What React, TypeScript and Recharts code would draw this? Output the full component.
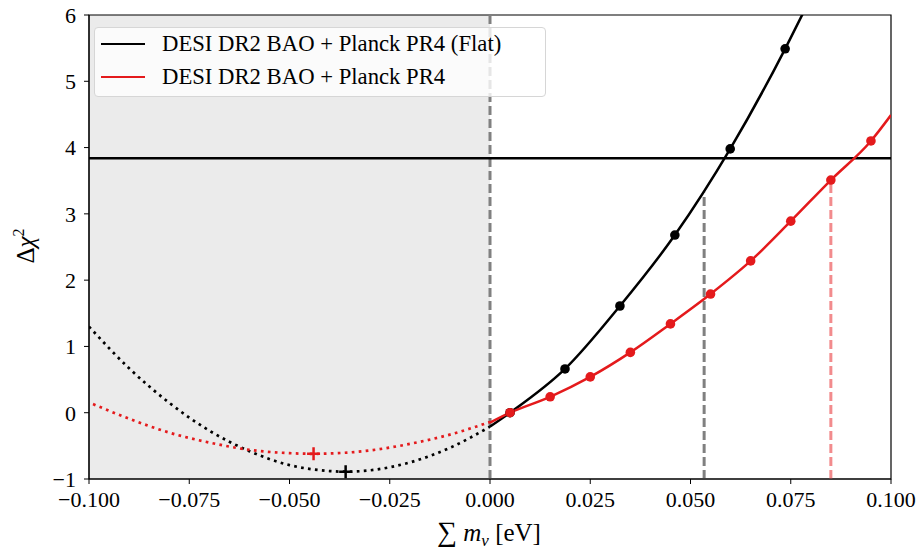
import React from 'react'
import {
  ComposedChart, Line, Scatter, XAxis, YAxis,
  ReferenceArea, ReferenceLine,
} from 'recharts'

/* ─── data ─── */
const X_TICKS = [-0.1, -0.075, -0.05, -0.025, 0, 0.025, 0.05, 0.075, 0.1]
const Y_TICKS = [-1, 0, 1, 2, 3, 4, 5, 6]

const LEGEND_LABELS = ['DESI DR2 BAO + Planck PR4 (Flat)', 'DESI DR2 BAO + Planck PR4']

// flat prior: solid part (m_nu >= 0), dots are the sampled points
const FLAT_X = [0, 0.005, 0.0187, 0.0324, 0.0461, 0.0599, 0.0736, 0.078]
const FLAT_Y = [-0.21, 0, 0.66, 1.61, 2.68, 3.98, 5.49, 6.02]
// flat prior: dotted extrapolation into negative masses
const FLAT_EXT_X = [-0.1, -0.09, -0.08, -0.07, -0.06, -0.05, -0.04, -0.036, -0.03, -0.02, -0.01, 0]
const FLAT_EXT_Y = [1.3, 0.67, 0.15, -0.27, -0.58, -0.79, -0.88, -0.89, -0.87, -0.75, -0.53, -0.21]

const NONFLAT_X = [0, 0.005, 0.015, 0.025, 0.035, 0.045, 0.055, 0.065, 0.075, 0.085, 0.095, 0.1]
const NONFLAT_Y = [-0.15, 0, 0.24, 0.54, 0.91, 1.34, 1.79, 2.29, 2.89, 3.51, 4.1, 4.49]
const NONFLAT_EXT_X = [-0.099, -0.09, -0.08, -0.07, -0.06, -0.05, -0.044, -0.04, -0.03, -0.02, -0.01, 0]
const NONFLAT_EXT_Y = [0.13, -0.09, -0.3, -0.45, -0.56, -0.61, -0.62, -0.615, -0.57, -0.47, -0.33, -0.14]

const FLAT_MIN = [{ x: -0.036, y: -0.89 }]
const NONFLAT_MIN = [{ x: -0.044, y: -0.62 }]

const FLAT_LIMIT = { x: 0.0534, y: 3.32 }
const NONFLAT_LIMIT = { x: 0.085, y: 3.51 }
const CHI2_95 = 3.84

const toPts = (xs: number[], ys: number[]) => xs.map((x, i) => ({ x, y: ys[i] }))

const flatLine = toPts(FLAT_X, FLAT_Y)
const flatDots = flatLine.slice(1, -1)
const flatExt = toPts(FLAT_EXT_X, FLAT_EXT_Y)
const nonflatLine = toPts(NONFLAT_X, NONFLAT_Y)
const nonflatDots = nonflatLine.slice(1, -1)
const nonflatExt = toPts(NONFLAT_EXT_X, NONFLAT_EXT_Y)

/* ─── styling ─── */
const RED = '#e41a1c'
const FONT = '"Liberation Serif", "DejaVu Serif", serif'
const tick = { fontSize: 22, fill: '#000', fontFamily: FONT }
const fmt = (v: number, d: number) => v.toFixed(d).replace('-', '\u2212')

const dot = (color: string) => (p: any) => (
  <circle cx={p.cx} cy={p.cy} r={4.8} fill={color} stroke="none" />
)
const plus = (color: string) => (p: any) => (
  <path
    d={`M${p.cx - 6.5},${p.cy}H${p.cx + 6.5}M${p.cx},${p.cy - 6.5}V${p.cy + 6.5}`}
    stroke={color} strokeWidth={2.5} fill="none"
  />
)

function YLabel() {
  return (
    <text x={34} y={246} transform="rotate(-90, 34, 246)" textAnchor="middle"
      fontFamily={FONT} fontSize={25} fill="#000">
      Δ<tspan fontStyle="italic">χ</tspan>
      <tspan fontSize={16} dy={-10}>2</tspan>
    </text>
  )
}

function XLabel() {
  return (
    <text x={489} y={541} textAnchor="middle" fontFamily={FONT} fontSize={25} fill="#000">
      <tspan fontSize={28}>∑</tspan>
      <tspan fontStyle="italic"> m</tspan>
      <tspan fontStyle="italic" fontSize={17} dy={5}>ν</tspan>
      <tspan dy={-5}> [eV]</tspan>
    </text>
  )
}

function LegendBox() {
  const colors = ['#000', RED]
  return (
    <div style={{
      position: 'absolute', left: 94, top: 27, width: 450, height: 68,
      background: 'rgba(255,255,255,0.8)', border: '1px solid #d6d6d6', borderRadius: 4,
      fontFamily: FONT, fontSize: 22.7, color: '#000',
    }}>
      {LEGEND_LABELS.map((label, i) => (
        <div key={label} style={{ position: 'absolute', left: 6, top: 1 + i * 33, height: 30, display: 'flex', alignItems: 'center' }}>
          <span style={{ display: 'inline-block', width: 44, height: 2.7, background: colors[i], marginRight: 17 }} />
          <span>{label}</span>
        </div>
      ))}
    </div>
  )
}

export default function App() {
  return (
    <div style={{ position: 'absolute', left: 0, top: 0, width: 922, height: 547, background: '#fff' }}>
      <ComposedChart width={922} height={547} margin={{ top: 15, right: 31, left: 29, bottom: 0 }}>
        <XAxis
          dataKey="x" type="number" domain={[-0.1, 0.1]} ticks={X_TICKS}
          allowDataOverflow height={68} tick={tick} tickFormatter={(v) => fmt(v, 3)}
          tickSize={5} tickMargin={7} stroke="#000" interval={0}
        />
        <YAxis
          dataKey="y" type="number" domain={[-1, 6]} ticks={Y_TICKS}
          allowDataOverflow width={60} tick={tick} tickFormatter={(v) => fmt(v, 0)}
          tickSize={5} tickMargin={8} stroke="#000" interval={0}
        />

        {/* unphysical region */}
        <ReferenceArea x1={-0.1} x2={0} y1={-1} y2={6} fill="#ebebeb" fillOpacity={1} stroke="none" />

        <ReferenceLine x={0} stroke="#808080" strokeWidth={3} strokeDasharray="9 4" />
        <ReferenceLine segment={[{ x: FLAT_LIMIT.x, y: -1 }, FLAT_LIMIT]} stroke="#808080" strokeWidth={3} strokeDasharray="9 4" />
        <ReferenceLine segment={[{ x: NONFLAT_LIMIT.x, y: -1 }, NONFLAT_LIMIT]} stroke="#f28b8d" strokeWidth={3} strokeDasharray="9 4" />
        <ReferenceLine y={CHI2_95} stroke="#000" strokeWidth={2.5} />

        <Line data={flatExt} dataKey="y" type="monotone" stroke="#000" strokeWidth={2.7}
          strokeDasharray="2.7 4.3" dot={false} isAnimationActive={false} />
        <Line data={nonflatExt} dataKey="y" type="monotone" stroke={RED} strokeWidth={2.7}
          strokeDasharray="2.7 4.3" dot={false} isAnimationActive={false} />
        <Line data={flatLine} dataKey="y" type="monotone" stroke="#000" strokeWidth={2.5}
          dot={false} isAnimationActive={false} />
        <Line data={nonflatLine} dataKey="y" type="monotone" stroke={RED} strokeWidth={2.5}
          dot={false} isAnimationActive={false} />

        <Scatter data={flatDots} dataKey="y" shape={dot('#000')} isAnimationActive={false} />
        <Scatter data={nonflatDots} dataKey="y" shape={dot(RED)} isAnimationActive={false} />
        <Scatter data={FLAT_MIN} dataKey="y" shape={plus('#000')} isAnimationActive={false} />
        <Scatter data={NONFLAT_MIN} dataKey="y" shape={plus(RED)} isAnimationActive={false} />

        {/* frame */}
        <ReferenceArea x1={-0.1} x2={0.1} y1={-1} y2={6} fill="none" stroke="#000" strokeWidth={1.2} />

        <YLabel />
        <XLabel />
      </ComposedChart>
      <LegendBox />
    </div>
  )
}
